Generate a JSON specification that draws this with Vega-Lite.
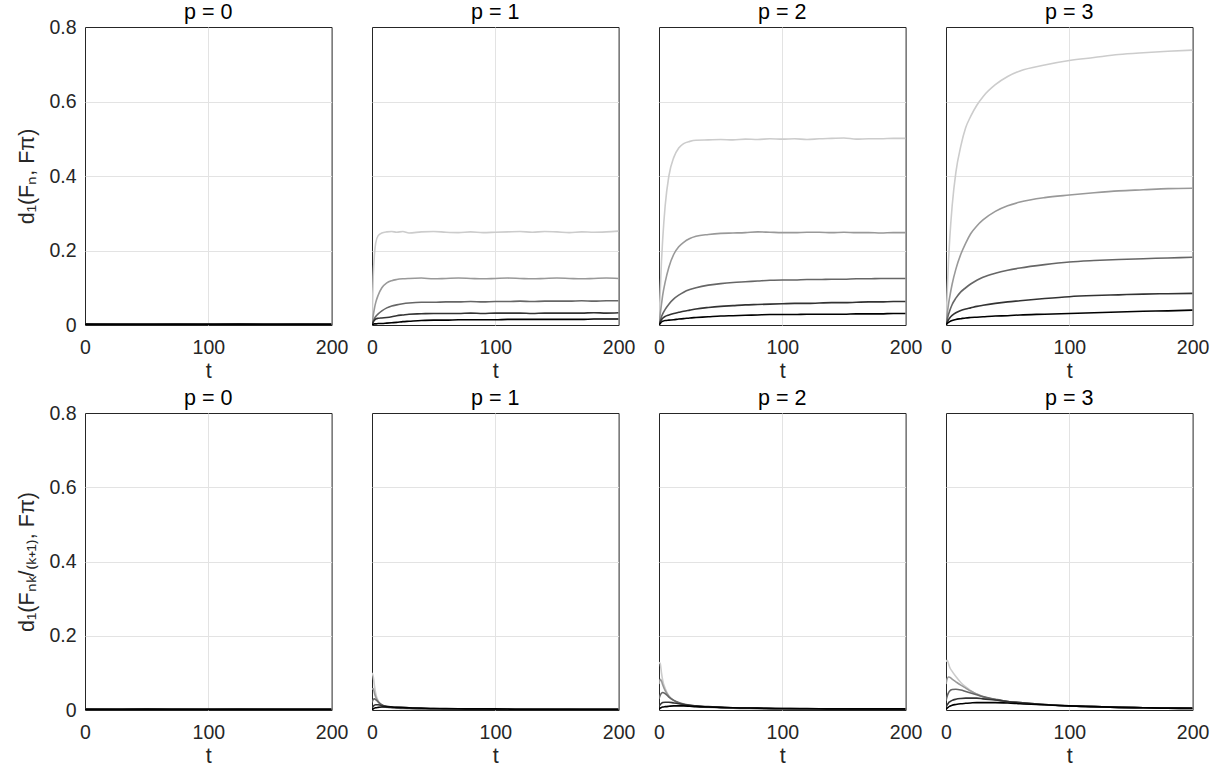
{
"$schema":"https://vega.github.io/schema/vega-lite/v6.json",
"padding":{"left":16,"top":1,"right":5,"bottom":5},
"background":"white",
"datasets":{
"a":[
{"p":0,"k":1,"t":0,"v":0.002},{"p":0,"k":1,"t":25,"v":0.002},{"p":0,"k":1,"t":50,"v":0.003},{"p":0,"k":1,"t":75,"v":0.002},{"p":0,"k":1,"t":100,"v":0.002},{"p":0,"k":1,"t":125,"v":0.002},{"p":0,"k":1,"t":150,"v":0.003},{"p":0,"k":1,"t":175,"v":0.002},{"p":0,"k":1,"t":200,"v":0.002},
{"p":0,"k":2,"t":0,"v":0.002},{"p":0,"k":2,"t":25,"v":0.003},{"p":0,"k":2,"t":50,"v":0.002},{"p":0,"k":2,"t":75,"v":0.002},{"p":0,"k":2,"t":100,"v":0.003},{"p":0,"k":2,"t":125,"v":0.002},{"p":0,"k":2,"t":150,"v":0.002},{"p":0,"k":2,"t":175,"v":0.002},{"p":0,"k":2,"t":200,"v":0.003},
{"p":0,"k":3,"t":0,"v":0.002},{"p":0,"k":3,"t":25,"v":0.002},{"p":0,"k":3,"t":50,"v":0.002},{"p":0,"k":3,"t":75,"v":0.003},{"p":0,"k":3,"t":100,"v":0.002},{"p":0,"k":3,"t":125,"v":0.002},{"p":0,"k":3,"t":150,"v":0.002},{"p":0,"k":3,"t":175,"v":0.003},{"p":0,"k":3,"t":200,"v":0.002},
{"p":0,"k":4,"t":0,"v":0.003},{"p":0,"k":4,"t":25,"v":0.002},{"p":0,"k":4,"t":50,"v":0.002},{"p":0,"k":4,"t":75,"v":0.002},{"p":0,"k":4,"t":100,"v":0.002},{"p":0,"k":4,"t":125,"v":0.003},{"p":0,"k":4,"t":150,"v":0.002},{"p":0,"k":4,"t":175,"v":0.002},{"p":0,"k":4,"t":200,"v":0.002},
{"p":0,"k":5,"t":0,"v":0.002},{"p":0,"k":5,"t":25,"v":0.002},{"p":0,"k":5,"t":50,"v":0.002},{"p":0,"k":5,"t":75,"v":0.002},{"p":0,"k":5,"t":100,"v":0.002},{"p":0,"k":5,"t":125,"v":0.002},{"p":0,"k":5,"t":150,"v":0.002},{"p":0,"k":5,"t":175,"v":0.002},{"p":0,"k":5,"t":200,"v":0.002},

{"p":1,"k":1,"t":0,"v":0},{"p":1,"k":1,"t":1,"v":0.13},{"p":1,"k":1,"t":2,"v":0.19},{"p":1,"k":1,"t":3,"v":0.22},{"p":1,"k":1,"t":5,"v":0.24},{"p":1,"k":1,"t":8,"v":0.247},{"p":1,"k":1,"t":12,"v":0.25},{"p":1,"k":1,"t":16,"v":0.251},{"p":1,"k":1,"t":20,"v":0.249},{"p":1,"k":1,"t":25,"v":0.251},{"p":1,"k":1,"t":30,"v":0.247},{"p":1,"k":1,"t":40,"v":0.25},{"p":1,"k":1,"t":50,"v":0.251},{"p":1,"k":1,"t":60,"v":0.249},{"p":1,"k":1,"t":70,"v":0.248},{"p":1,"k":1,"t":80,"v":0.25},{"p":1,"k":1,"t":90,"v":0.248},{"p":1,"k":1,"t":100,"v":0.249},{"p":1,"k":1,"t":110,"v":0.25},{"p":1,"k":1,"t":120,"v":0.251},{"p":1,"k":1,"t":130,"v":0.249},{"p":1,"k":1,"t":140,"v":0.251},{"p":1,"k":1,"t":150,"v":0.25},{"p":1,"k":1,"t":160,"v":0.248},{"p":1,"k":1,"t":170,"v":0.25},{"p":1,"k":1,"t":180,"v":0.249},{"p":1,"k":1,"t":190,"v":0.25},{"p":1,"k":1,"t":200,"v":0.252},
{"p":1,"k":2,"t":0,"v":0},{"p":1,"k":2,"t":1,"v":0.025},{"p":1,"k":2,"t":2,"v":0.045},{"p":1,"k":2,"t":3,"v":0.06},{"p":1,"k":2,"t":5,"v":0.08},{"p":1,"k":2,"t":8,"v":0.1},{"p":1,"k":2,"t":12,"v":0.113},{"p":1,"k":2,"t":16,"v":0.119},{"p":1,"k":2,"t":20,"v":0.122},{"p":1,"k":2,"t":25,"v":0.124},{"p":1,"k":2,"t":30,"v":0.125},{"p":1,"k":2,"t":40,"v":0.126},{"p":1,"k":2,"t":50,"v":0.124},{"p":1,"k":2,"t":60,"v":0.125},{"p":1,"k":2,"t":70,"v":0.126},{"p":1,"k":2,"t":80,"v":0.125},{"p":1,"k":2,"t":90,"v":0.124},{"p":1,"k":2,"t":100,"v":0.125},{"p":1,"k":2,"t":110,"v":0.126},{"p":1,"k":2,"t":120,"v":0.125},{"p":1,"k":2,"t":130,"v":0.124},{"p":1,"k":2,"t":140,"v":0.125},{"p":1,"k":2,"t":150,"v":0.126},{"p":1,"k":2,"t":160,"v":0.125},{"p":1,"k":2,"t":170,"v":0.124},{"p":1,"k":2,"t":180,"v":0.125},{"p":1,"k":2,"t":190,"v":0.126},{"p":1,"k":2,"t":200,"v":0.125},
{"p":1,"k":3,"t":0,"v":0},{"p":1,"k":3,"t":1,"v":0.01},{"p":1,"k":3,"t":2,"v":0.018},{"p":1,"k":3,"t":3,"v":0.023},{"p":1,"k":3,"t":5,"v":0.03},{"p":1,"k":3,"t":8,"v":0.038},{"p":1,"k":3,"t":12,"v":0.046},{"p":1,"k":3,"t":16,"v":0.051},{"p":1,"k":3,"t":20,"v":0.054},{"p":1,"k":3,"t":25,"v":0.057},{"p":1,"k":3,"t":30,"v":0.059},{"p":1,"k":3,"t":40,"v":0.061},{"p":1,"k":3,"t":50,"v":0.061},{"p":1,"k":3,"t":60,"v":0.062},{"p":1,"k":3,"t":70,"v":0.062},{"p":1,"k":3,"t":80,"v":0.063},{"p":1,"k":3,"t":90,"v":0.062},{"p":1,"k":3,"t":100,"v":0.063},{"p":1,"k":3,"t":110,"v":0.063},{"p":1,"k":3,"t":120,"v":0.064},{"p":1,"k":3,"t":130,"v":0.063},{"p":1,"k":3,"t":140,"v":0.064},{"p":1,"k":3,"t":150,"v":0.064},{"p":1,"k":3,"t":160,"v":0.064},{"p":1,"k":3,"t":170,"v":0.065},{"p":1,"k":3,"t":180,"v":0.064},{"p":1,"k":3,"t":190,"v":0.065},{"p":1,"k":3,"t":200,"v":0.065},
{"p":1,"k":4,"t":0,"v":0},{"p":1,"k":4,"t":1,"v":0.008},{"p":1,"k":4,"t":2,"v":0.013},{"p":1,"k":4,"t":3,"v":0.016},{"p":1,"k":4,"t":5,"v":0.018},{"p":1,"k":4,"t":8,"v":0.019},{"p":1,"k":4,"t":12,"v":0.02},{"p":1,"k":4,"t":16,"v":0.022},{"p":1,"k":4,"t":20,"v":0.025},{"p":1,"k":4,"t":25,"v":0.027},{"p":1,"k":4,"t":30,"v":0.029},{"p":1,"k":4,"t":40,"v":0.03},{"p":1,"k":4,"t":50,"v":0.031},{"p":1,"k":4,"t":60,"v":0.031},{"p":1,"k":4,"t":70,"v":0.031},{"p":1,"k":4,"t":80,"v":0.032},{"p":1,"k":4,"t":90,"v":0.031},{"p":1,"k":4,"t":100,"v":0.032},{"p":1,"k":4,"t":110,"v":0.032},{"p":1,"k":4,"t":120,"v":0.032},{"p":1,"k":4,"t":130,"v":0.031},{"p":1,"k":4,"t":140,"v":0.032},{"p":1,"k":4,"t":150,"v":0.032},{"p":1,"k":4,"t":160,"v":0.032},{"p":1,"k":4,"t":170,"v":0.032},{"p":1,"k":4,"t":180,"v":0.033},{"p":1,"k":4,"t":190,"v":0.032},{"p":1,"k":4,"t":200,"v":0.033},
{"p":1,"k":5,"t":0,"v":0},{"p":1,"k":5,"t":1,"v":0.002},{"p":1,"k":5,"t":2,"v":0.003},{"p":1,"k":5,"t":3,"v":0.003},{"p":1,"k":5,"t":5,"v":0.004},{"p":1,"k":5,"t":8,"v":0.004},{"p":1,"k":5,"t":12,"v":0.005},{"p":1,"k":5,"t":16,"v":0.006},{"p":1,"k":5,"t":20,"v":0.007},{"p":1,"k":5,"t":25,"v":0.009},{"p":1,"k":5,"t":30,"v":0.01},{"p":1,"k":5,"t":40,"v":0.012},{"p":1,"k":5,"t":50,"v":0.013},{"p":1,"k":5,"t":60,"v":0.013},{"p":1,"k":5,"t":70,"v":0.014},{"p":1,"k":5,"t":80,"v":0.014},{"p":1,"k":5,"t":90,"v":0.014},{"p":1,"k":5,"t":100,"v":0.014},{"p":1,"k":5,"t":110,"v":0.015},{"p":1,"k":5,"t":120,"v":0.015},{"p":1,"k":5,"t":130,"v":0.015},{"p":1,"k":5,"t":140,"v":0.015},{"p":1,"k":5,"t":150,"v":0.015},{"p":1,"k":5,"t":160,"v":0.015},{"p":1,"k":5,"t":170,"v":0.015},{"p":1,"k":5,"t":180,"v":0.016},{"p":1,"k":5,"t":190,"v":0.016},{"p":1,"k":5,"t":200,"v":0.016},

{"p":2,"k":1,"t":0,"v":0},{"p":2,"k":1,"t":1,"v":0.09},{"p":2,"k":1,"t":2,"v":0.17},{"p":2,"k":1,"t":3,"v":0.23},{"p":2,"k":1,"t":5,"v":0.32},{"p":2,"k":1,"t":8,"v":0.4},{"p":2,"k":1,"t":12,"v":0.45},{"p":2,"k":1,"t":16,"v":0.475},{"p":2,"k":1,"t":20,"v":0.487},{"p":2,"k":1,"t":25,"v":0.493},{"p":2,"k":1,"t":30,"v":0.496},{"p":2,"k":1,"t":40,"v":0.497},{"p":2,"k":1,"t":50,"v":0.498},{"p":2,"k":1,"t":60,"v":0.497},{"p":2,"k":1,"t":70,"v":0.499},{"p":2,"k":1,"t":80,"v":0.498},{"p":2,"k":1,"t":90,"v":0.5},{"p":2,"k":1,"t":100,"v":0.499},{"p":2,"k":1,"t":110,"v":0.5},{"p":2,"k":1,"t":120,"v":0.498},{"p":2,"k":1,"t":130,"v":0.5},{"p":2,"k":1,"t":140,"v":0.501},{"p":2,"k":1,"t":150,"v":0.502},{"p":2,"k":1,"t":160,"v":0.499},{"p":2,"k":1,"t":170,"v":0.5},{"p":2,"k":1,"t":180,"v":0.5},{"p":2,"k":1,"t":190,"v":0.501},{"p":2,"k":1,"t":200,"v":0.501},
{"p":2,"k":2,"t":0,"v":0},{"p":2,"k":2,"t":1,"v":0.03},{"p":2,"k":2,"t":2,"v":0.055},{"p":2,"k":2,"t":3,"v":0.08},{"p":2,"k":2,"t":5,"v":0.115},{"p":2,"k":2,"t":8,"v":0.155},{"p":2,"k":2,"t":12,"v":0.19},{"p":2,"k":2,"t":16,"v":0.21},{"p":2,"k":2,"t":20,"v":0.222},{"p":2,"k":2,"t":25,"v":0.232},{"p":2,"k":2,"t":30,"v":0.238},{"p":2,"k":2,"t":40,"v":0.243},{"p":2,"k":2,"t":50,"v":0.246},{"p":2,"k":2,"t":60,"v":0.247},{"p":2,"k":2,"t":70,"v":0.248},{"p":2,"k":2,"t":80,"v":0.25},{"p":2,"k":2,"t":90,"v":0.249},{"p":2,"k":2,"t":100,"v":0.248},{"p":2,"k":2,"t":110,"v":0.248},{"p":2,"k":2,"t":120,"v":0.249},{"p":2,"k":2,"t":130,"v":0.249},{"p":2,"k":2,"t":140,"v":0.248},{"p":2,"k":2,"t":150,"v":0.249},{"p":2,"k":2,"t":160,"v":0.248},{"p":2,"k":2,"t":170,"v":0.248},{"p":2,"k":2,"t":180,"v":0.247},{"p":2,"k":2,"t":190,"v":0.248},{"p":2,"k":2,"t":200,"v":0.248},
{"p":2,"k":3,"t":0,"v":0},{"p":2,"k":3,"t":1,"v":0.012},{"p":2,"k":3,"t":2,"v":0.022},{"p":2,"k":3,"t":3,"v":0.03},{"p":2,"k":3,"t":5,"v":0.042},{"p":2,"k":3,"t":8,"v":0.056},{"p":2,"k":3,"t":12,"v":0.07},{"p":2,"k":3,"t":16,"v":0.08},{"p":2,"k":3,"t":20,"v":0.088},{"p":2,"k":3,"t":25,"v":0.095},{"p":2,"k":3,"t":30,"v":0.1},{"p":2,"k":3,"t":40,"v":0.107},{"p":2,"k":3,"t":50,"v":0.111},{"p":2,"k":3,"t":60,"v":0.114},{"p":2,"k":3,"t":70,"v":0.116},{"p":2,"k":3,"t":80,"v":0.118},{"p":2,"k":3,"t":90,"v":0.12},{"p":2,"k":3,"t":100,"v":0.121},{"p":2,"k":3,"t":110,"v":0.121},{"p":2,"k":3,"t":120,"v":0.122},{"p":2,"k":3,"t":130,"v":0.122},{"p":2,"k":3,"t":140,"v":0.123},{"p":2,"k":3,"t":150,"v":0.123},{"p":2,"k":3,"t":160,"v":0.124},{"p":2,"k":3,"t":170,"v":0.124},{"p":2,"k":3,"t":180,"v":0.125},{"p":2,"k":3,"t":190,"v":0.125},{"p":2,"k":3,"t":200,"v":0.125},
{"p":2,"k":4,"t":0,"v":0},{"p":2,"k":4,"t":1,"v":0.008},{"p":2,"k":4,"t":2,"v":0.014},{"p":2,"k":4,"t":3,"v":0.018},{"p":2,"k":4,"t":5,"v":0.023},{"p":2,"k":4,"t":8,"v":0.027},{"p":2,"k":4,"t":12,"v":0.031},{"p":2,"k":4,"t":16,"v":0.034},{"p":2,"k":4,"t":20,"v":0.037},{"p":2,"k":4,"t":25,"v":0.04},{"p":2,"k":4,"t":30,"v":0.043},{"p":2,"k":4,"t":40,"v":0.047},{"p":2,"k":4,"t":50,"v":0.05},{"p":2,"k":4,"t":60,"v":0.052},{"p":2,"k":4,"t":70,"v":0.054},{"p":2,"k":4,"t":80,"v":0.055},{"p":2,"k":4,"t":90,"v":0.056},{"p":2,"k":4,"t":100,"v":0.057},{"p":2,"k":4,"t":110,"v":0.058},{"p":2,"k":4,"t":120,"v":0.058},{"p":2,"k":4,"t":130,"v":0.059},{"p":2,"k":4,"t":140,"v":0.06},{"p":2,"k":4,"t":150,"v":0.06},{"p":2,"k":4,"t":160,"v":0.061},{"p":2,"k":4,"t":170,"v":0.062},{"p":2,"k":4,"t":180,"v":0.062},{"p":2,"k":4,"t":190,"v":0.063},{"p":2,"k":4,"t":200,"v":0.063},
{"p":2,"k":5,"t":0,"v":0},{"p":2,"k":5,"t":1,"v":0.004},{"p":2,"k":5,"t":2,"v":0.008},{"p":2,"k":5,"t":3,"v":0.01},{"p":2,"k":5,"t":5,"v":0.012},{"p":2,"k":5,"t":8,"v":0.013},{"p":2,"k":5,"t":12,"v":0.014},{"p":2,"k":5,"t":16,"v":0.016},{"p":2,"k":5,"t":20,"v":0.017},{"p":2,"k":5,"t":25,"v":0.019},{"p":2,"k":5,"t":30,"v":0.02},{"p":2,"k":5,"t":40,"v":0.022},{"p":2,"k":5,"t":50,"v":0.024},{"p":2,"k":5,"t":60,"v":0.025},{"p":2,"k":5,"t":70,"v":0.026},{"p":2,"k":5,"t":80,"v":0.027},{"p":2,"k":5,"t":90,"v":0.028},{"p":2,"k":5,"t":100,"v":0.028},{"p":2,"k":5,"t":110,"v":0.028},{"p":2,"k":5,"t":120,"v":0.029},{"p":2,"k":5,"t":130,"v":0.029},{"p":2,"k":5,"t":140,"v":0.029},{"p":2,"k":5,"t":150,"v":0.029},{"p":2,"k":5,"t":160,"v":0.03},{"p":2,"k":5,"t":170,"v":0.03},{"p":2,"k":5,"t":180,"v":0.03},{"p":2,"k":5,"t":190,"v":0.031},{"p":2,"k":5,"t":200,"v":0.031},

{"p":3,"k":1,"t":0,"v":0},{"p":3,"k":1,"t":1,"v":0.09},{"p":3,"k":1,"t":2,"v":0.17},{"p":3,"k":1,"t":3,"v":0.23},{"p":3,"k":1,"t":5,"v":0.32},{"p":3,"k":1,"t":8,"v":0.41},{"p":3,"k":1,"t":12,"v":0.48},{"p":3,"k":1,"t":16,"v":0.53},{"p":3,"k":1,"t":20,"v":0.56},{"p":3,"k":1,"t":25,"v":0.59},{"p":3,"k":1,"t":30,"v":0.613},{"p":3,"k":1,"t":40,"v":0.645},{"p":3,"k":1,"t":50,"v":0.667},{"p":3,"k":1,"t":60,"v":0.682},{"p":3,"k":1,"t":80,"v":0.698},{"p":3,"k":1,"t":100,"v":0.71},{"p":3,"k":1,"t":120,"v":0.718},{"p":3,"k":1,"t":140,"v":0.726},{"p":3,"k":1,"t":160,"v":0.731},{"p":3,"k":1,"t":180,"v":0.735},{"p":3,"k":1,"t":200,"v":0.738},
{"p":3,"k":2,"t":0,"v":0},{"p":3,"k":2,"t":1,"v":0.03},{"p":3,"k":2,"t":2,"v":0.055},{"p":3,"k":2,"t":3,"v":0.075},{"p":3,"k":2,"t":5,"v":0.11},{"p":3,"k":2,"t":8,"v":0.15},{"p":3,"k":2,"t":12,"v":0.19},{"p":3,"k":2,"t":16,"v":0.22},{"p":3,"k":2,"t":20,"v":0.245},{"p":3,"k":2,"t":25,"v":0.266},{"p":3,"k":2,"t":30,"v":0.282},{"p":3,"k":2,"t":40,"v":0.305},{"p":3,"k":2,"t":50,"v":0.32},{"p":3,"k":2,"t":60,"v":0.33},{"p":3,"k":2,"t":80,"v":0.342},{"p":3,"k":2,"t":100,"v":0.349},{"p":3,"k":2,"t":120,"v":0.355},{"p":3,"k":2,"t":140,"v":0.36},{"p":3,"k":2,"t":160,"v":0.363},{"p":3,"k":2,"t":180,"v":0.366},{"p":3,"k":2,"t":200,"v":0.367},
{"p":3,"k":3,"t":0,"v":0},{"p":3,"k":3,"t":1,"v":0.015},{"p":3,"k":3,"t":2,"v":0.028},{"p":3,"k":3,"t":3,"v":0.038},{"p":3,"k":3,"t":5,"v":0.055},{"p":3,"k":3,"t":8,"v":0.072},{"p":3,"k":3,"t":12,"v":0.089},{"p":3,"k":3,"t":16,"v":0.1},{"p":3,"k":3,"t":20,"v":0.11},{"p":3,"k":3,"t":25,"v":0.12},{"p":3,"k":3,"t":30,"v":0.128},{"p":3,"k":3,"t":40,"v":0.139},{"p":3,"k":3,"t":50,"v":0.147},{"p":3,"k":3,"t":60,"v":0.153},{"p":3,"k":3,"t":80,"v":0.162},{"p":3,"k":3,"t":100,"v":0.169},{"p":3,"k":3,"t":120,"v":0.173},{"p":3,"k":3,"t":140,"v":0.176},{"p":3,"k":3,"t":160,"v":0.178},{"p":3,"k":3,"t":180,"v":0.18},{"p":3,"k":3,"t":200,"v":0.182},
{"p":3,"k":4,"t":0,"v":0},{"p":3,"k":4,"t":1,"v":0.008},{"p":3,"k":4,"t":2,"v":0.014},{"p":3,"k":4,"t":3,"v":0.019},{"p":3,"k":4,"t":5,"v":0.026},{"p":3,"k":4,"t":8,"v":0.033},{"p":3,"k":4,"t":12,"v":0.039},{"p":3,"k":4,"t":16,"v":0.043},{"p":3,"k":4,"t":20,"v":0.046},{"p":3,"k":4,"t":25,"v":0.05},{"p":3,"k":4,"t":30,"v":0.053},{"p":3,"k":4,"t":40,"v":0.058},{"p":3,"k":4,"t":50,"v":0.062},{"p":3,"k":4,"t":60,"v":0.065},{"p":3,"k":4,"t":80,"v":0.071},{"p":3,"k":4,"t":100,"v":0.076},{"p":3,"k":4,"t":120,"v":0.079},{"p":3,"k":4,"t":140,"v":0.081},{"p":3,"k":4,"t":160,"v":0.083},{"p":3,"k":4,"t":180,"v":0.084},{"p":3,"k":4,"t":200,"v":0.085},
{"p":3,"k":5,"t":0,"v":0},{"p":3,"k":5,"t":1,"v":0.004},{"p":3,"k":5,"t":2,"v":0.007},{"p":3,"k":5,"t":3,"v":0.009},{"p":3,"k":5,"t":5,"v":0.012},{"p":3,"k":5,"t":8,"v":0.015},{"p":3,"k":5,"t":12,"v":0.017},{"p":3,"k":5,"t":16,"v":0.019},{"p":3,"k":5,"t":20,"v":0.02},{"p":3,"k":5,"t":25,"v":0.021},{"p":3,"k":5,"t":30,"v":0.022},{"p":3,"k":5,"t":40,"v":0.024},{"p":3,"k":5,"t":50,"v":0.025},{"p":3,"k":5,"t":60,"v":0.027},{"p":3,"k":5,"t":80,"v":0.029},{"p":3,"k":5,"t":100,"v":0.031},{"p":3,"k":5,"t":120,"v":0.033},{"p":3,"k":5,"t":140,"v":0.035},{"p":3,"k":5,"t":160,"v":0.037},{"p":3,"k":5,"t":180,"v":0.038},{"p":3,"k":5,"t":200,"v":0.04}
],
"b":[
{"p":0,"k":1,"t":0,"v":0.002},{"p":0,"k":1,"t":25,"v":0.002},{"p":0,"k":1,"t":50,"v":0.003},{"p":0,"k":1,"t":75,"v":0.002},{"p":0,"k":1,"t":100,"v":0.002},{"p":0,"k":1,"t":125,"v":0.002},{"p":0,"k":1,"t":150,"v":0.002},{"p":0,"k":1,"t":175,"v":0.003},{"p":0,"k":1,"t":200,"v":0.002},
{"p":0,"k":2,"t":0,"v":0.002},{"p":0,"k":2,"t":25,"v":0.002},{"p":0,"k":2,"t":50,"v":0.002},{"p":0,"k":2,"t":75,"v":0.003},{"p":0,"k":2,"t":100,"v":0.002},{"p":0,"k":2,"t":125,"v":0.002},{"p":0,"k":2,"t":150,"v":0.003},{"p":0,"k":2,"t":175,"v":0.002},{"p":0,"k":2,"t":200,"v":0.002},
{"p":0,"k":3,"t":0,"v":0.003},{"p":0,"k":3,"t":25,"v":0.002},{"p":0,"k":3,"t":50,"v":0.002},{"p":0,"k":3,"t":75,"v":0.002},{"p":0,"k":3,"t":100,"v":0.002},{"p":0,"k":3,"t":125,"v":0.003},{"p":0,"k":3,"t":150,"v":0.002},{"p":0,"k":3,"t":175,"v":0.002},{"p":0,"k":3,"t":200,"v":0.002},
{"p":0,"k":4,"t":0,"v":0.002},{"p":0,"k":4,"t":25,"v":0.002},{"p":0,"k":4,"t":50,"v":0.003},{"p":0,"k":4,"t":75,"v":0.002},{"p":0,"k":4,"t":100,"v":0.002},{"p":0,"k":4,"t":125,"v":0.002},{"p":0,"k":4,"t":150,"v":0.002},{"p":0,"k":4,"t":175,"v":0.002},{"p":0,"k":4,"t":200,"v":0.002},
{"p":0,"k":5,"t":0,"v":0.002},{"p":0,"k":5,"t":25,"v":0.002},{"p":0,"k":5,"t":50,"v":0.002},{"p":0,"k":5,"t":75,"v":0.002},{"p":0,"k":5,"t":100,"v":0.002},{"p":0,"k":5,"t":125,"v":0.002},{"p":0,"k":5,"t":150,"v":0.002},{"p":0,"k":5,"t":175,"v":0.002},{"p":0,"k":5,"t":200,"v":0.002},

{"p":1,"k":1,"t":0,"v":0.1},{"p":1,"k":1,"t":1,"v":0.09},{"p":1,"k":1,"t":2,"v":0.065},{"p":1,"k":1,"t":3,"v":0.045},{"p":1,"k":1,"t":5,"v":0.025},{"p":1,"k":1,"t":8,"v":0.012},{"p":1,"k":1,"t":12,"v":0.007},{"p":1,"k":1,"t":16,"v":0.005},{"p":1,"k":1,"t":20,"v":0.004},{"p":1,"k":1,"t":25,"v":0.004},{"p":1,"k":1,"t":30,"v":0.003},{"p":1,"k":1,"t":40,"v":0.003},{"p":1,"k":1,"t":50,"v":0.002},{"p":1,"k":1,"t":60,"v":0.002},{"p":1,"k":1,"t":80,"v":0.002},{"p":1,"k":1,"t":100,"v":0.002},{"p":1,"k":1,"t":120,"v":0.002},{"p":1,"k":1,"t":140,"v":0.001},{"p":1,"k":1,"t":160,"v":0.002},{"p":1,"k":1,"t":180,"v":0.001},{"p":1,"k":1,"t":200,"v":0.001},
{"p":1,"k":2,"t":0,"v":0.055},{"p":1,"k":2,"t":1,"v":0.058},{"p":1,"k":2,"t":2,"v":0.045},{"p":1,"k":2,"t":3,"v":0.035},{"p":1,"k":2,"t":5,"v":0.022},{"p":1,"k":2,"t":8,"v":0.012},{"p":1,"k":2,"t":12,"v":0.008},{"p":1,"k":2,"t":16,"v":0.006},{"p":1,"k":2,"t":20,"v":0.005},{"p":1,"k":2,"t":25,"v":0.004},{"p":1,"k":2,"t":30,"v":0.004},{"p":1,"k":2,"t":40,"v":0.003},{"p":1,"k":2,"t":50,"v":0.003},{"p":1,"k":2,"t":60,"v":0.002},{"p":1,"k":2,"t":80,"v":0.002},{"p":1,"k":2,"t":100,"v":0.002},{"p":1,"k":2,"t":120,"v":0.002},{"p":1,"k":2,"t":140,"v":0.002},{"p":1,"k":2,"t":160,"v":0.001},{"p":1,"k":2,"t":180,"v":0.001},{"p":1,"k":2,"t":200,"v":0.001},
{"p":1,"k":3,"t":0,"v":0.02},{"p":1,"k":3,"t":1,"v":0.028},{"p":1,"k":3,"t":2,"v":0.03},{"p":1,"k":3,"t":3,"v":0.028},{"p":1,"k":3,"t":5,"v":0.022},{"p":1,"k":3,"t":8,"v":0.014},{"p":1,"k":3,"t":12,"v":0.009},{"p":1,"k":3,"t":16,"v":0.007},{"p":1,"k":3,"t":20,"v":0.006},{"p":1,"k":3,"t":25,"v":0.005},{"p":1,"k":3,"t":30,"v":0.005},{"p":1,"k":3,"t":40,"v":0.004},{"p":1,"k":3,"t":50,"v":0.003},{"p":1,"k":3,"t":60,"v":0.003},{"p":1,"k":3,"t":80,"v":0.002},{"p":1,"k":3,"t":100,"v":0.002},{"p":1,"k":3,"t":120,"v":0.002},{"p":1,"k":3,"t":140,"v":0.002},{"p":1,"k":3,"t":160,"v":0.002},{"p":1,"k":3,"t":180,"v":0.001},{"p":1,"k":3,"t":200,"v":0.001},
{"p":1,"k":4,"t":0,"v":0.005},{"p":1,"k":4,"t":1,"v":0.01},{"p":1,"k":4,"t":2,"v":0.013},{"p":1,"k":4,"t":3,"v":0.014},{"p":1,"k":4,"t":5,"v":0.014},{"p":1,"k":4,"t":8,"v":0.012},{"p":1,"k":4,"t":12,"v":0.01},{"p":1,"k":4,"t":16,"v":0.008},{"p":1,"k":4,"t":20,"v":0.007},{"p":1,"k":4,"t":25,"v":0.006},{"p":1,"k":4,"t":30,"v":0.005},{"p":1,"k":4,"t":40,"v":0.004},{"p":1,"k":4,"t":50,"v":0.004},{"p":1,"k":4,"t":60,"v":0.003},{"p":1,"k":4,"t":80,"v":0.003},{"p":1,"k":4,"t":100,"v":0.002},{"p":1,"k":4,"t":120,"v":0.002},{"p":1,"k":4,"t":140,"v":0.002},{"p":1,"k":4,"t":160,"v":0.002},{"p":1,"k":4,"t":180,"v":0.002},{"p":1,"k":4,"t":200,"v":0.002},
{"p":1,"k":5,"t":0,"v":0.001},{"p":1,"k":5,"t":1,"v":0.003},{"p":1,"k":5,"t":2,"v":0.005},{"p":1,"k":5,"t":3,"v":0.006},{"p":1,"k":5,"t":5,"v":0.007},{"p":1,"k":5,"t":8,"v":0.008},{"p":1,"k":5,"t":12,"v":0.008},{"p":1,"k":5,"t":16,"v":0.008},{"p":1,"k":5,"t":20,"v":0.007},{"p":1,"k":5,"t":25,"v":0.007},{"p":1,"k":5,"t":30,"v":0.006},{"p":1,"k":5,"t":40,"v":0.005},{"p":1,"k":5,"t":50,"v":0.004},{"p":1,"k":5,"t":60,"v":0.004},{"p":1,"k":5,"t":80,"v":0.003},{"p":1,"k":5,"t":100,"v":0.003},{"p":1,"k":5,"t":120,"v":0.002},{"p":1,"k":5,"t":140,"v":0.002},{"p":1,"k":5,"t":160,"v":0.002},{"p":1,"k":5,"t":180,"v":0.002},{"p":1,"k":5,"t":200,"v":0.002},

{"p":2,"k":1,"t":0,"v":0.128},{"p":2,"k":1,"t":1,"v":0.125},{"p":2,"k":1,"t":2,"v":0.1},{"p":2,"k":1,"t":3,"v":0.08},{"p":2,"k":1,"t":5,"v":0.058},{"p":2,"k":1,"t":8,"v":0.038},{"p":2,"k":1,"t":12,"v":0.025},{"p":2,"k":1,"t":16,"v":0.018},{"p":2,"k":1,"t":20,"v":0.014},{"p":2,"k":1,"t":25,"v":0.011},{"p":2,"k":1,"t":30,"v":0.009},{"p":2,"k":1,"t":40,"v":0.007},{"p":2,"k":1,"t":50,"v":0.006},{"p":2,"k":1,"t":60,"v":0.005},{"p":2,"k":1,"t":80,"v":0.004},{"p":2,"k":1,"t":100,"v":0.003},{"p":2,"k":1,"t":120,"v":0.003},{"p":2,"k":1,"t":140,"v":0.002},{"p":2,"k":1,"t":160,"v":0.002},{"p":2,"k":1,"t":180,"v":0.002},{"p":2,"k":1,"t":200,"v":0.002},
{"p":2,"k":2,"t":0,"v":0.07},{"p":2,"k":2,"t":1,"v":0.083},{"p":2,"k":2,"t":2,"v":0.078},{"p":2,"k":2,"t":3,"v":0.068},{"p":2,"k":2,"t":5,"v":0.052},{"p":2,"k":2,"t":8,"v":0.037},{"p":2,"k":2,"t":12,"v":0.026},{"p":2,"k":2,"t":16,"v":0.019},{"p":2,"k":2,"t":20,"v":0.015},{"p":2,"k":2,"t":25,"v":0.012},{"p":2,"k":2,"t":30,"v":0.01},{"p":2,"k":2,"t":40,"v":0.008},{"p":2,"k":2,"t":50,"v":0.006},{"p":2,"k":2,"t":60,"v":0.005},{"p":2,"k":2,"t":80,"v":0.004},{"p":2,"k":2,"t":100,"v":0.003},{"p":2,"k":2,"t":120,"v":0.003},{"p":2,"k":2,"t":140,"v":0.002},{"p":2,"k":2,"t":160,"v":0.002},{"p":2,"k":2,"t":180,"v":0.002},{"p":2,"k":2,"t":200,"v":0.002},
{"p":2,"k":3,"t":0,"v":0.03},{"p":2,"k":3,"t":1,"v":0.04},{"p":2,"k":3,"t":2,"v":0.045},{"p":2,"k":3,"t":3,"v":0.047},{"p":2,"k":3,"t":5,"v":0.044},{"p":2,"k":3,"t":8,"v":0.035},{"p":2,"k":3,"t":12,"v":0.026},{"p":2,"k":3,"t":16,"v":0.02},{"p":2,"k":3,"t":20,"v":0.016},{"p":2,"k":3,"t":25,"v":0.013},{"p":2,"k":3,"t":30,"v":0.011},{"p":2,"k":3,"t":40,"v":0.008},{"p":2,"k":3,"t":50,"v":0.007},{"p":2,"k":3,"t":60,"v":0.006},{"p":2,"k":3,"t":80,"v":0.004},{"p":2,"k":3,"t":100,"v":0.003},{"p":2,"k":3,"t":120,"v":0.003},{"p":2,"k":3,"t":140,"v":0.002},{"p":2,"k":3,"t":160,"v":0.002},{"p":2,"k":3,"t":180,"v":0.002},{"p":2,"k":3,"t":200,"v":0.002},
{"p":2,"k":4,"t":0,"v":0.01},{"p":2,"k":4,"t":1,"v":0.015},{"p":2,"k":4,"t":2,"v":0.018},{"p":2,"k":4,"t":3,"v":0.02},{"p":2,"k":4,"t":5,"v":0.021},{"p":2,"k":4,"t":8,"v":0.021},{"p":2,"k":4,"t":12,"v":0.019},{"p":2,"k":4,"t":16,"v":0.017},{"p":2,"k":4,"t":20,"v":0.015},{"p":2,"k":4,"t":25,"v":0.013},{"p":2,"k":4,"t":30,"v":0.011},{"p":2,"k":4,"t":40,"v":0.009},{"p":2,"k":4,"t":50,"v":0.007},{"p":2,"k":4,"t":60,"v":0.006},{"p":2,"k":4,"t":80,"v":0.005},{"p":2,"k":4,"t":100,"v":0.004},{"p":2,"k":4,"t":120,"v":0.003},{"p":2,"k":4,"t":140,"v":0.003},{"p":2,"k":4,"t":160,"v":0.002},{"p":2,"k":4,"t":180,"v":0.002},{"p":2,"k":4,"t":200,"v":0.002},
{"p":2,"k":5,"t":0,"v":0.002},{"p":2,"k":5,"t":1,"v":0.005},{"p":2,"k":5,"t":2,"v":0.007},{"p":2,"k":5,"t":3,"v":0.008},{"p":2,"k":5,"t":5,"v":0.009},{"p":2,"k":5,"t":8,"v":0.01},{"p":2,"k":5,"t":12,"v":0.011},{"p":2,"k":5,"t":16,"v":0.011},{"p":2,"k":5,"t":20,"v":0.011},{"p":2,"k":5,"t":25,"v":0.01},{"p":2,"k":5,"t":30,"v":0.009},{"p":2,"k":5,"t":40,"v":0.008},{"p":2,"k":5,"t":50,"v":0.007},{"p":2,"k":5,"t":60,"v":0.006},{"p":2,"k":5,"t":80,"v":0.005},{"p":2,"k":5,"t":100,"v":0.004},{"p":2,"k":5,"t":120,"v":0.004},{"p":2,"k":5,"t":140,"v":0.003},{"p":2,"k":5,"t":160,"v":0.003},{"p":2,"k":5,"t":180,"v":0.003},{"p":2,"k":5,"t":200,"v":0.003},

{"p":3,"k":1,"t":0,"v":0.13},{"p":3,"k":1,"t":1,"v":0.134},{"p":3,"k":1,"t":2,"v":0.125},{"p":3,"k":1,"t":3,"v":0.115},{"p":3,"k":1,"t":5,"v":0.104},{"p":3,"k":1,"t":8,"v":0.09},{"p":3,"k":1,"t":12,"v":0.074},{"p":3,"k":1,"t":16,"v":0.062},{"p":3,"k":1,"t":20,"v":0.052},{"p":3,"k":1,"t":25,"v":0.042},{"p":3,"k":1,"t":30,"v":0.035},{"p":3,"k":1,"t":40,"v":0.027},{"p":3,"k":1,"t":50,"v":0.022},{"p":3,"k":1,"t":60,"v":0.019},{"p":3,"k":1,"t":80,"v":0.014},{"p":3,"k":1,"t":100,"v":0.011},{"p":3,"k":1,"t":120,"v":0.009},{"p":3,"k":1,"t":140,"v":0.007},{"p":3,"k":1,"t":160,"v":0.006},{"p":3,"k":1,"t":180,"v":0.005},{"p":3,"k":1,"t":200,"v":0.004},
{"p":3,"k":2,"t":0,"v":0.07},{"p":3,"k":2,"t":1,"v":0.085},{"p":3,"k":2,"t":2,"v":0.089},{"p":3,"k":2,"t":3,"v":0.088},{"p":3,"k":2,"t":5,"v":0.083},{"p":3,"k":2,"t":8,"v":0.076},{"p":3,"k":2,"t":12,"v":0.067},{"p":3,"k":2,"t":16,"v":0.059},{"p":3,"k":2,"t":20,"v":0.051},{"p":3,"k":2,"t":25,"v":0.043},{"p":3,"k":2,"t":30,"v":0.036},{"p":3,"k":2,"t":40,"v":0.028},{"p":3,"k":2,"t":50,"v":0.023},{"p":3,"k":2,"t":60,"v":0.019},{"p":3,"k":2,"t":80,"v":0.014},{"p":3,"k":2,"t":100,"v":0.011},{"p":3,"k":2,"t":120,"v":0.009},{"p":3,"k":2,"t":140,"v":0.007},{"p":3,"k":2,"t":160,"v":0.006},{"p":3,"k":2,"t":180,"v":0.005},{"p":3,"k":2,"t":200,"v":0.004},
{"p":3,"k":3,"t":0,"v":0.025},{"p":3,"k":3,"t":1,"v":0.038},{"p":3,"k":3,"t":2,"v":0.046},{"p":3,"k":3,"t":3,"v":0.051},{"p":3,"k":3,"t":5,"v":0.055},{"p":3,"k":3,"t":8,"v":0.056},{"p":3,"k":3,"t":12,"v":0.054},{"p":3,"k":3,"t":16,"v":0.05},{"p":3,"k":3,"t":20,"v":0.046},{"p":3,"k":3,"t":25,"v":0.041},{"p":3,"k":3,"t":30,"v":0.036},{"p":3,"k":3,"t":40,"v":0.029},{"p":3,"k":3,"t":50,"v":0.023},{"p":3,"k":3,"t":60,"v":0.02},{"p":3,"k":3,"t":80,"v":0.015},{"p":3,"k":3,"t":100,"v":0.011},{"p":3,"k":3,"t":120,"v":0.009},{"p":3,"k":3,"t":140,"v":0.007},{"p":3,"k":3,"t":160,"v":0.006},{"p":3,"k":3,"t":180,"v":0.005},{"p":3,"k":3,"t":200,"v":0.004},
{"p":3,"k":4,"t":0,"v":0.008},{"p":3,"k":4,"t":1,"v":0.014},{"p":3,"k":4,"t":2,"v":0.019},{"p":3,"k":4,"t":3,"v":0.022},{"p":3,"k":4,"t":5,"v":0.026},{"p":3,"k":4,"t":8,"v":0.029},{"p":3,"k":4,"t":12,"v":0.031},{"p":3,"k":4,"t":16,"v":0.032},{"p":3,"k":4,"t":20,"v":0.032},{"p":3,"k":4,"t":25,"v":0.032},{"p":3,"k":4,"t":30,"v":0.03},{"p":3,"k":4,"t":40,"v":0.027},{"p":3,"k":4,"t":50,"v":0.023},{"p":3,"k":4,"t":60,"v":0.02},{"p":3,"k":4,"t":80,"v":0.015},{"p":3,"k":4,"t":100,"v":0.011},{"p":3,"k":4,"t":120,"v":0.009},{"p":3,"k":4,"t":140,"v":0.007},{"p":3,"k":4,"t":160,"v":0.006},{"p":3,"k":4,"t":180,"v":0.005},{"p":3,"k":4,"t":200,"v":0.004},
{"p":3,"k":5,"t":0,"v":0.002},{"p":3,"k":5,"t":1,"v":0.005},{"p":3,"k":5,"t":2,"v":0.008},{"p":3,"k":5,"t":3,"v":0.01},{"p":3,"k":5,"t":5,"v":0.013},{"p":3,"k":5,"t":8,"v":0.015},{"p":3,"k":5,"t":12,"v":0.017},{"p":3,"k":5,"t":16,"v":0.018},{"p":3,"k":5,"t":20,"v":0.019},{"p":3,"k":5,"t":25,"v":0.02},{"p":3,"k":5,"t":30,"v":0.02},{"p":3,"k":5,"t":40,"v":0.02},{"p":3,"k":5,"t":50,"v":0.019},{"p":3,"k":5,"t":60,"v":0.017},{"p":3,"k":5,"t":80,"v":0.014},{"p":3,"k":5,"t":100,"v":0.011},{"p":3,"k":5,"t":120,"v":0.009},{"p":3,"k":5,"t":140,"v":0.007},{"p":3,"k":5,"t":160,"v":0.006},{"p":3,"k":5,"t":180,"v":0.005},{"p":3,"k":5,"t":200,"v":0.005}
]
},
"vconcat":[
{
"data":{"name":"a"},
"facet":{"column":{"field":"p","type":"ordinal","header":{"title":null,"labelExpr":"'p = ' + datum.value"}}},
"spacing":38,
"spec":{
"width":246.6,"height":298,
"mark":{"type":"line","strokeWidth":1.6,"interpolate":"monotone","clip":true},
"encoding":{
"x":{"field":"t","type":"quantitative","scale":{"domain":[0,200],"nice":false},"axis":{"values":[0,100,200],"title":"t","gridOpacity":{"condition":{"test":"datum.value == 0 || datum.value == 200","value":0},"value":1}}},
"y":{"field":"v","type":"quantitative","scale":{"domain":[0,0.8],"nice":false},"axis":{"values":[0,0.2,0.4,0.6,0.8],"format":"~g","title":"d₁(Fₙ, Fπ)","gridOpacity":{"condition":{"test":"datum.value == 0 || datum.value == 0.8","value":0},"value":1}}},
"color":{"field":"k","type":"ordinal","legend":null,"scale":{"domain":[1,2,3,4,5],"range":["#cccccc","#999999","#666666","#333333","#000000"]}},
"order":{"field":"t","type":"quantitative"}
}
}
},
{
"data":{"name":"b"},
"facet":{"column":{"field":"p","type":"ordinal","header":{"title":null,"labelExpr":"'p = ' + datum.value"}}},
"spacing":38,
"spec":{
"width":246.6,"height":297,
"mark":{"type":"line","strokeWidth":1.6,"interpolate":"monotone","clip":true},
"encoding":{
"x":{"field":"t","type":"quantitative","scale":{"domain":[0,200],"nice":false},"axis":{"values":[0,100,200],"title":"t","gridOpacity":{"condition":{"test":"datum.value == 0 || datum.value == 200","value":0},"value":1}}},
"y":{"field":"v","type":"quantitative","scale":{"domain":[0,0.8],"nice":false},"axis":{"values":[0,0.2,0.4,0.6,0.8],"format":"~g","title":"d₁(Fₙₖ/₍ₖ₊₁₎, Fπ)","gridOpacity":{"condition":{"test":"datum.value == 0 || datum.value == 0.8","value":0},"value":1}}},
"color":{"field":"k","type":"ordinal","legend":null,"scale":{"domain":[1,2,3,4,5],"range":["#cccccc","#999999","#666666","#333333","#000000"]}},
"order":{"field":"t","type":"quantitative"}
}
}
}
],
"spacing":5,
"config":{
"font":"Liberation Sans",
"view":{"stroke":"#262626","strokeWidth":1},
"axis":{"labelFontSize":19.5,"titleFontSize":21.5,"labelColor":"#262626","titleColor":"#262626","titleFontWeight":"normal","gridColor":"#e3e3e3","gridWidth":1,"ticks":false,"domain":false,"labelFlush":false,"labelOverlap":false},
"axisX":{"labelPadding":12,"titlePadding":4},
"axisY":{"labelPadding":8,"titlePadding":10},
"header":{"labelFontSize":21.5,"labelColor":"#000000","labelPadding":3,"labelFont":"Liberation Sans","labelFontWeight":"normal"}
}
}
